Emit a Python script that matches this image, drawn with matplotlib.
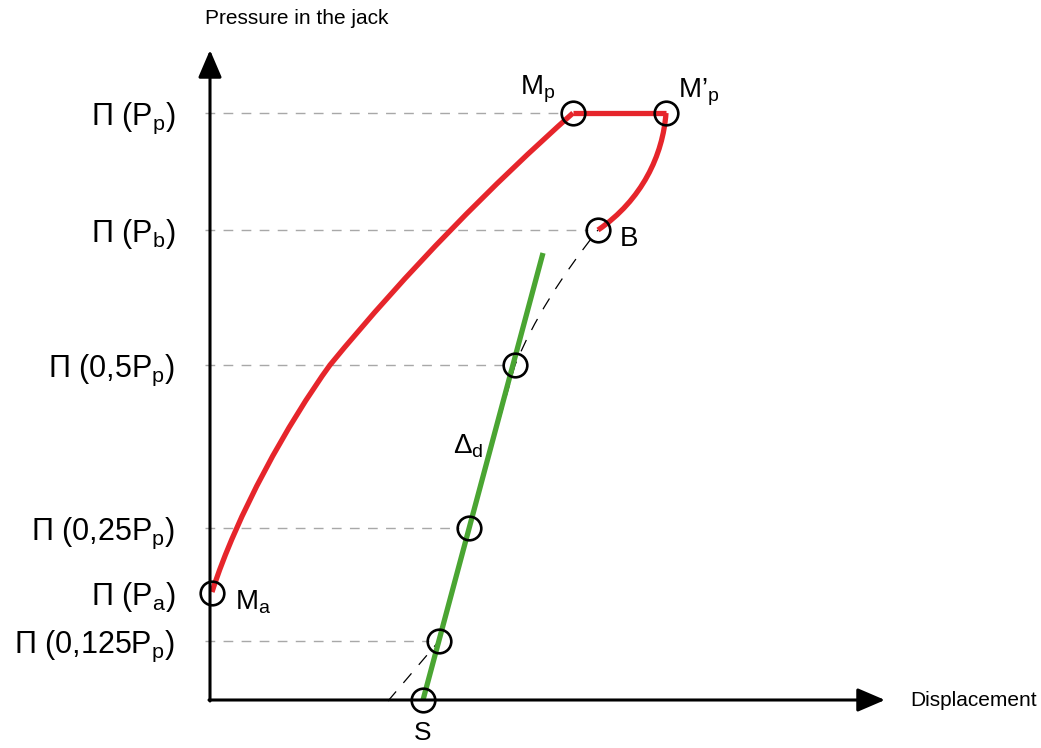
import numpy as np
import matplotlib
matplotlib.use("Agg")
import matplotlib.pyplot as plt
from matplotlib.path import Path
from matplotlib.patches import PathPatch

plt.rcParams['font.family'] = ['Liberation Sans', 'DejaVu Sans']
plt.rcParams['mathtext.fontset'] = 'custom'
plt.rcParams['mathtext.rm'] = 'Liberation Sans'
plt.rcParams['mathtext.it'] = 'Liberation Sans'

# pressure levels (schematic units, origin at axes corner)
level_labels = ["Π (P$_\\mathrm{p}$)", "Π (P$_\\mathrm{b}$)", "Π (0,5P$_\\mathrm{p}$)",
                "Π (0,25P$_\\mathrm{p}$)", "Π (P$_\\mathrm{a}$)", "Π (0,125P$_\\mathrm{p}$)"]
level_values = [587, 470, 335, 172, 107, 59]
# where each dashed guide stops (x of the point it leads to), None = no guide
level_ends = [363, 388, 305, 259, None, 229]

# loading curve Ma -> Mp: two cubic bezier pieces (points + control points)
load_x = [2, 27, 78, 120, 198, 283, 363]
load_y = [108, 186, 277, 335, 430, 516, 587]
# plateau Mp -> M'p
hold_x = [363, 456]
hold_y = [587, 587]
# unloading M'p -> B (cubic bezier)
unload_x = [456, 453, 432, 388]
unload_y = [587, 545, 500, 470]

# green line (Delta d)
green_x = [213, 333]
green_y = [0, 447]

# black dashed curve from below S up to B (straight runs, then quadratic piece)
dash_x = [178, 229, 259, 305, 332, 388]
dash_y = [-1, 59, 172, 335, 400, 470]

# marked points
pts_x = [2, 363, 456, 388, 305, 259, 229, 213]
pts_y = [107, 587, 587, 470, 335, 172, 59, 0]

red = '#e6252b'
green = '#4aa532'

fig = plt.figure(figsize=(10.41, 7.48), dpi=100)
ax = fig.add_axes([0, 0, 1, 1])
ax.set_xlim(-210, 831)
ax.set_ylim(-48, 700)
ax.axis('off')

# guides
for lab, val, end in zip(level_labels, level_values, level_ends):
    if end is not None:
        ax.plot([-5, end - 10], [val, val], color='#a8a8a8', lw=1.0,
                dashes=(7, 6), zorder=1)
    ax.text(-35, val - 12, lab, ha='right', va='baseline', fontsize=22)

dash_codes = [Path.MOVETO, Path.LINETO, Path.LINETO, Path.LINETO, Path.CURVE3, Path.CURVE3]
ax.add_patch(PathPatch(Path(list(zip(dash_x, dash_y)), dash_codes), fc='none', ec='black',
                       lw=0.9, linestyle=(0, (10, 9)), zorder=2))
ax.plot(green_x, green_y, color=green, lw=3.8, solid_capstyle='butt', zorder=3)

load_codes = [Path.MOVETO] + [Path.CURVE4] * 6
ax.add_patch(PathPatch(Path(list(zip(load_x, load_y)), load_codes), fc='none', ec=red,
                       lw=3.8, zorder=3))
ax.plot(hold_x, hold_y, color=red, lw=3.8, solid_capstyle='butt', zorder=3)
unload_codes = [Path.MOVETO, Path.CURVE4, Path.CURVE4, Path.CURVE4]
ax.add_patch(PathPatch(Path(list(zip(unload_x, unload_y)), unload_codes), fc='none',
                       ec=red, lw=3.8, zorder=3))
ax.plot(pts_x, pts_y, 'o', ms=17, mfc='none', mec='black', mew=1.9, zorder=5)

# axes arrows
ax.annotate('', xy=(0, 650), xytext=(0, -1),
            arrowprops=dict(arrowstyle='-|>,head_length=0.7,head_width=0.3', lw=2.2,
                            color='black', mutation_scale=24, shrinkA=0, shrinkB=0),
            zorder=4)
ax.annotate('', xy=(675, 0), xytext=(-1, 0),
            arrowprops=dict(arrowstyle='-|>,head_length=0.7,head_width=0.3', lw=2.2,
                            color='black', mutation_scale=24, shrinkA=0, shrinkB=0),
            zorder=4)

ax.text(-5, 682, "Pressure in the jack", ha='left', va='center', fontsize=15)
ax.text(700, 0, "Displacement", ha='left', va='center', fontsize=15)

# point labels
ax.text(310, 606, "M$_\\mathrm{p}$", fontsize=20, va='baseline')
ax.text(468, 603, "M’$_\\mathrm{p}$", fontsize=20, va='baseline')
ax.text(410, 454, "B", fontsize=20, va='baseline')
ax.text(25, 91, "M$_\\mathrm{a}$", fontsize=20, va='baseline')
ax.text(213, -33, "S", fontsize=19, va='center', ha='center')
ax.text(243, 247, "Δ$_\\mathrm{d}$", fontsize=20, va='baseline')

fig.savefig('out.png', dpi=100)
